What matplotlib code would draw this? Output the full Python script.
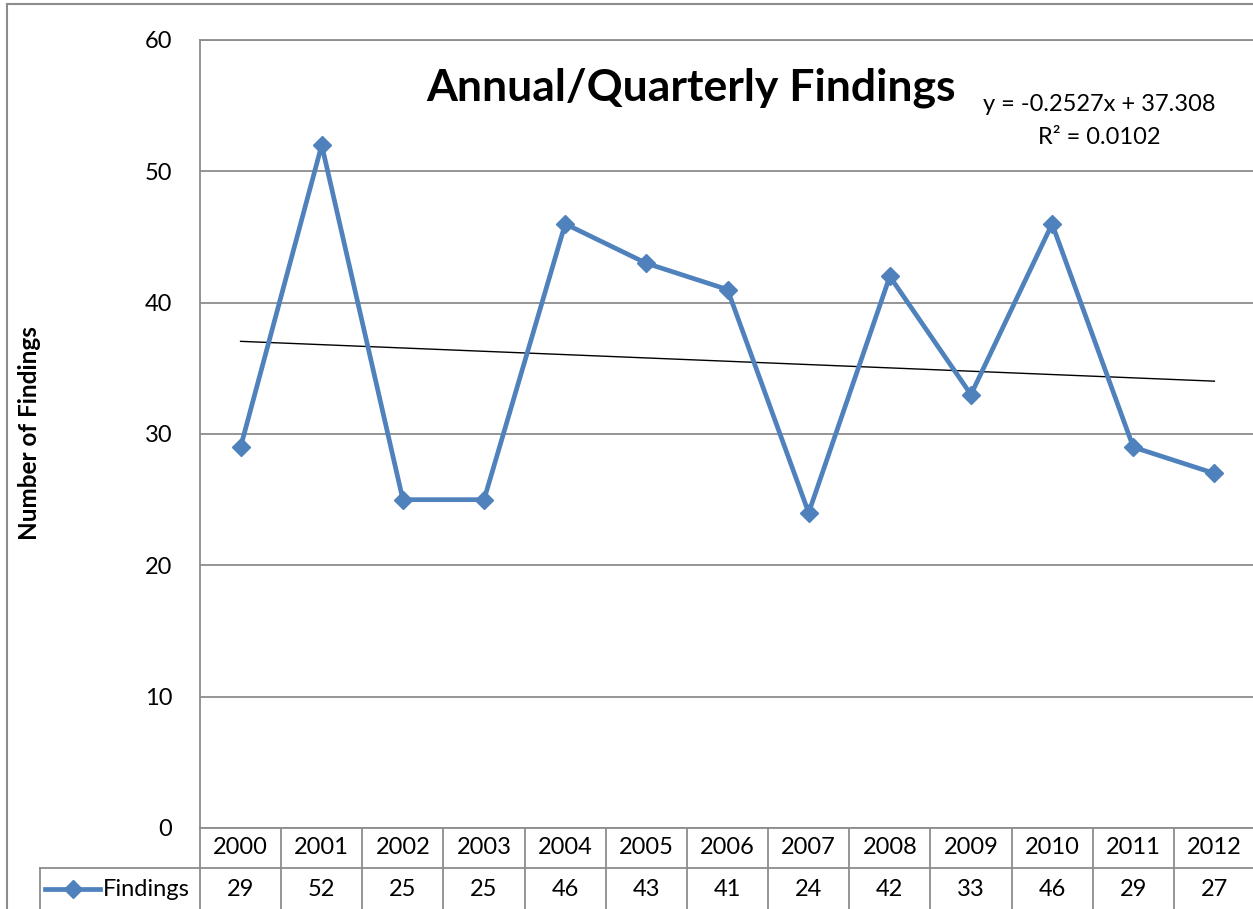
import matplotlib
matplotlib.use("Agg")
import matplotlib.pyplot as plt
import matplotlib.transforms as mtransforms
from matplotlib.lines import Line2D
import numpy as np

plt.rcParams['font.family'] = ['Lato', 'DejaVu Sans']

years = ["2000", "2001", "2002", "2003", "2004", "2005", "2006",
         "2007", "2008", "2009", "2010", "2011", "2012"]
findings = [29, 52, 25, 25, 46, 43, 41, 24, 42, 33, 46, 29, 27]
series_name = "Findings"
title = "Annual/Quarterly Findings"
ylabel = "Number of Findings"
trend_slope = -0.2527
trend_intercept = 37.308
trend_r2 = 0.0102

W, H = 1253, 909
fig = plt.figure(figsize=(W / 100, H / 100), dpi=100)
fig.patch.set_facecolor("white")

# outer chart border
fig.add_artist(Line2D([7 / W, 7 / W], [0, 1 - 4 / H], transform=fig.transFigure,
                      color="#8c8c8c", lw=1.5))
fig.add_artist(Line2D([7 / W, 1], [1 - 4 / H, 1 - 4 / H], transform=fig.transFigure,
                      color="#8c8c8c", lw=1.5))

left, right = 200 / W, 1255 / W
bottom, top = 1 - 828 / H, 1 - 40 / H
ax = fig.add_axes([left, bottom, right - left, top - bottom])

x = np.arange(len(years))
blue = "#4F81BD"
grid_c = "#8c8c8c"
fs = 17

ax.plot(x, findings, color=blue, lw=3.4, marker="D", markersize=9.5,
        markerfacecolor=blue, markeredgecolor=blue, zorder=3, clip_on=False)

# linear trend (Excel x = 1..n)
xt = x + 1
ax.plot(x, trend_slope * xt + trend_intercept, color="black", lw=1.0, zorder=2)

ax.set_xlim(-0.5, len(years) - 0.5)
ax.set_ylim(0, 60)
ax.set_yticks(range(0, 61, 10))
ax.yaxis.grid(True, color=grid_c, lw=1.3)
ax.set_axisbelow(True)
ax.set_xticks([])
ax.tick_params(axis="y", length=0, pad=20, labelsize=fs)
ax.spines["right"].set_visible(False)
for s in ["left", "bottom", "top"]:
    ax.spines[s].set_color(grid_c)
    ax.spines[s].set_linewidth(1.3)

ax.text(0.465, 0.94, title, transform=ax.transAxes, ha="center", va="center",
        fontsize=32, fontweight="bold")
ax.text(0.852, 0.918, f"y = {trend_slope}x + {trend_intercept}", transform=ax.transAxes,
        ha="center", va="center", fontsize=17)
ax.text(0.852, 0.876, f"R² = {trend_r2}", transform=ax.transAxes,
        ha="center", va="center", fontsize=17)

fig.text(30 / W, 1 - 433 / H, ylabel, rotation=90, ha="center", va="center",
         fontsize=17.5, fontweight="bold")

# data table below the axis
trans = mtransforms.blended_transform_factory(ax.transData, ax.transAxes)
ax_h_px = 788.0
r1 = -40 / ax_h_px
r2 = -90 / ax_h_px
tbl_c = "#8c8c8c"
for i in range(len(years) + 1):
    xb = i - 0.5
    ax.add_line(Line2D([xb, xb], [0, r2], transform=trans, color=tbl_c, lw=1.3, clip_on=False))
ax.add_line(Line2D([-0.5, len(years) - 0.5], [r1, r1], transform=trans, color=tbl_c,
                   lw=1.3, clip_on=False))
for i, (yr, v) in enumerate(zip(years, findings)):
    ax.text(i, -20 / ax_h_px, yr, transform=trans, ha="center", va="center",
            fontsize=fs, clip_on=False)
    ax.text(i, -61 / ax_h_px, str(v), transform=trans, ha="center", va="center",
            fontsize=fs, clip_on=False)

# legend cell
axt = ax.transAxes
lx0 = (40 - 200) / (1255 - 200)
ax.add_line(Line2D([lx0, 0], [r1, r1], transform=axt, color=tbl_c, lw=1.3, clip_on=False))
ax.add_line(Line2D([lx0, lx0], [r1, r2], transform=axt, color=tbl_c, lw=1.3, clip_on=False))
kx0 = (45 - 200) / 1055
kx1 = (100 - 200) / 1055
ax.add_line(Line2D([kx0, kx1], [-61 / ax_h_px] * 2, transform=axt, color=blue, lw=3.4,
                   clip_on=False))
ax.add_line(Line2D([(kx0 + kx1) / 2], [-61 / ax_h_px], transform=axt, color=blue,
                   marker="D", markersize=9.5, clip_on=False))
ax.text((103 - 200) / 1055, -61 / ax_h_px, series_name, transform=axt, ha="left",
        va="center", fontsize=fs, clip_on=False)

fig.savefig("out.png", dpi=100, facecolor="white")
